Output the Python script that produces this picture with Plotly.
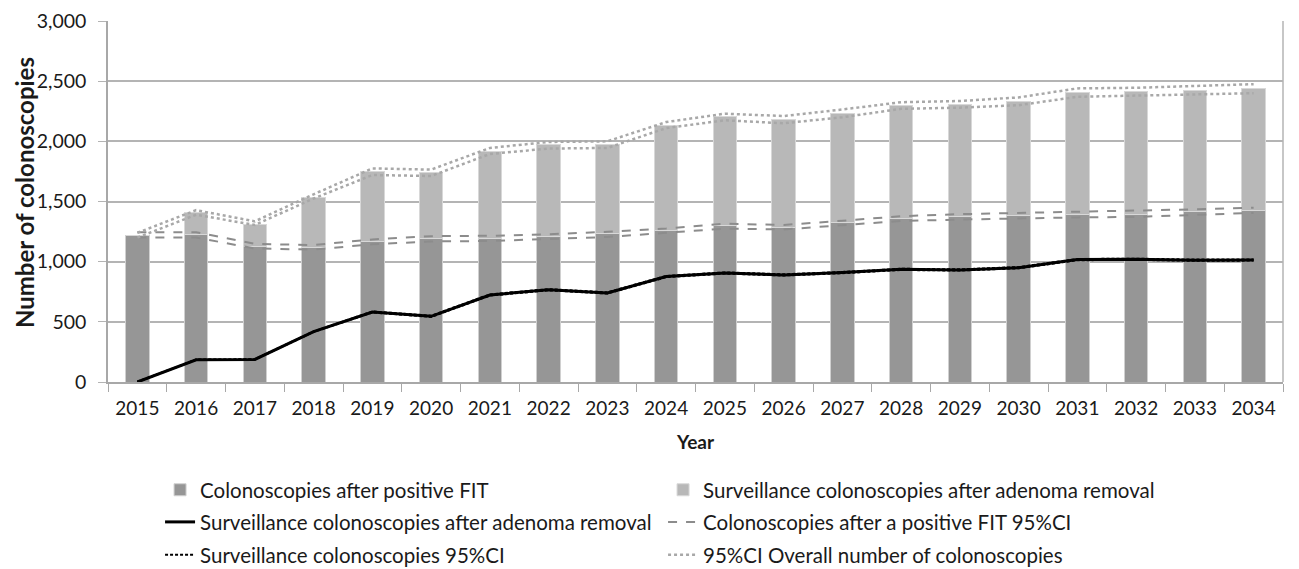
import plotly.graph_objects as go

years = [str(y) for y in range(2015, 2035)]

fit_bars = [1216, 1222, 1125, 1117, 1166, 1194, 1191, 1208, 1230, 1255,
            1297, 1288, 1324, 1358, 1372, 1380, 1388, 1391, 1413, 1424]
surv_bars = [0, 185, 188, 418, 582, 546, 723, 767, 740, 876,
             906, 890, 909, 936, 931, 950, 1017, 1020, 1012, 1014]
surv_line = surv_bars

fit_ci_upper = [1245, 1245, 1148, 1138, 1185, 1212, 1215, 1228, 1248, 1275,
                1315, 1305, 1340, 1378, 1395, 1405, 1415, 1420, 1435, 1448]
fit_ci_lower = [1200, 1200, 1110, 1100, 1145, 1168, 1172, 1188, 1205, 1240,
                1275, 1268, 1300, 1338, 1350, 1360, 1368, 1372, 1390, 1405]

surv_ci_upper = [2, 186, 189, 420, 586, 551, 728, 772, 745, 881,
                 911, 895, 914, 941, 936, 955, 1022, 1025, 1017, 1019]
surv_ci_lower = [0, 184, 187, 416, 578, 541, 718, 762, 735, 871,
                 901, 885, 904, 931, 926, 945, 1012, 1015, 1007, 1009]

all_ci_upper = [1240, 1428, 1335, 1560, 1775, 1765, 1945, 1995, 2000, 2160,
                2230, 2210, 2265, 2325, 2335, 2365, 2440, 2445, 2460, 2475]
all_ci_lower = [1200, 1390, 1305, 1525, 1720, 1712, 1895, 1940, 1945, 2110,
                2175, 2150, 2200, 2270, 2280, 2300, 2370, 2380, 2390, 2400]

FONT = "Lato, sans-serif"
TXT = "#1a1a1a"

fig = go.Figure()
fig.add_trace(go.Bar(x=years, y=fit_bars, name="Colonoscopies after positive FIT", legend="legend",
                     marker=dict(color="#969696", line=dict(color="#d0d0d0", width=1))))
fig.add_trace(go.Bar(x=years, y=surv_bars, name="Surveillance colonoscopies after adenoma removal",
                     legend="legend",
                     marker=dict(color="#b8b8b8", line=dict(color="#d8d8d8", width=1))))
fig.add_trace(go.Scatter(x=years, y=surv_line, mode="lines", legend="legend2",
                         name="Surveillance colonoscopies after adenoma removal",
                         line=dict(color="black", width=3)))
fig.add_trace(go.Scatter(x=years, y=fit_ci_upper, mode="lines", legend="legend2",
                         name="Colonoscopies after a positive FIT 95%CI",
                         line=dict(color="#8c8c8c", width=2, dash="dash")))
fig.add_trace(go.Scatter(x=years, y=fit_ci_lower, mode="lines", showlegend=False,
                         name="Colonoscopies after a positive FIT 95%CI",
                         line=dict(color="#8c8c8c", width=2, dash="dash")))
fig.add_trace(go.Scatter(x=years, y=surv_ci_upper, mode="lines", legend="legend3",
                         name="Surveillance colonoscopies 95%CI",
                         line=dict(color="black", width=2, dash="3px,2px")))
fig.add_trace(go.Scatter(x=years, y=surv_ci_lower, mode="lines", showlegend=False,
                         name="Surveillance colonoscopies 95%CI",
                         line=dict(color="black", width=2, dash="3px,2px")))
fig.add_trace(go.Scatter(x=years, y=all_ci_upper, mode="lines", legend="legend3",
                         name="95%CI Overall number of colonoscopies",
                         line=dict(color="#a8a8a8", width=2.5, dash="dot")))
fig.add_trace(go.Scatter(x=years, y=all_ci_lower, mode="lines", showlegend=False,
                         name="95%CI Overall number of colonoscopies",
                         line=dict(color="#a8a8a8", width=2.5, dash="dot")))

def leg(y):
    return dict(orientation="h", x=0.0443, xanchor="left", y=y, yanchor="middle",
                entrywidth=458, entrywidthmode="pixels", bgcolor="rgba(0,0,0,0)",
                font=dict(family=FONT, size=20.5, color=TXT), traceorder="normal")

fig.update_layout(
    barmode="stack",
    bargap=0.6,
    width=1291, height=561,
    margin=dict(l=100, r=16, t=13, b=187, autoexpand=False),
    plot_bgcolor="white", paper_bgcolor="white",
    font=dict(family=FONT, size=19, color=TXT),
    legend=leg(-0.299),
    legend2=leg(-0.388),
    legend3=leg(-0.479),
    xaxis=dict(
        type="category", automargin=False,
        title=dict(text="<b>Year</b>", font=dict(family=FONT, size=19), standoff=18),
        showline=True, linecolor="#a8a8a8", linewidth=1.5,
        ticks="outside", ticklen=8, tickcolor="#a8a8a8", tickson="boundaries",
        tickfont=dict(family=FONT, size=19), ticklabelstandoff=8,
    ),
    yaxis=dict(
        range=[0, 3000], dtick=500, tickformat=",d", automargin=False,
        showgrid=True, gridcolor="#b4b4b4", gridwidth=1.5,
        showline=True, linecolor="#a8a8a8", linewidth=1.5,
        ticks="outside", ticklen=8, tickcolor="#b4b4b4",
        tickfont=dict(family=FONT, size=19.5), ticklabelstandoff=8,
        zeroline=False,
    ),
)

fig.add_annotation(text="<b>Number of colonoscopies</b>", textangle=-90,
                   xref="paper", yref="paper", x=-0.0715, y=0.526,
                   xanchor="center", yanchor="middle", showarrow=False,
                   font=dict(family=FONT, size=24, color=TXT))

fig.add_shape(type="line", xref="paper", yref="paper", x0=1, x1=1, y0=0, y1=1,
              line=dict(color="#b4b4b4", width=1.5))

fig.write_html("out.html")
